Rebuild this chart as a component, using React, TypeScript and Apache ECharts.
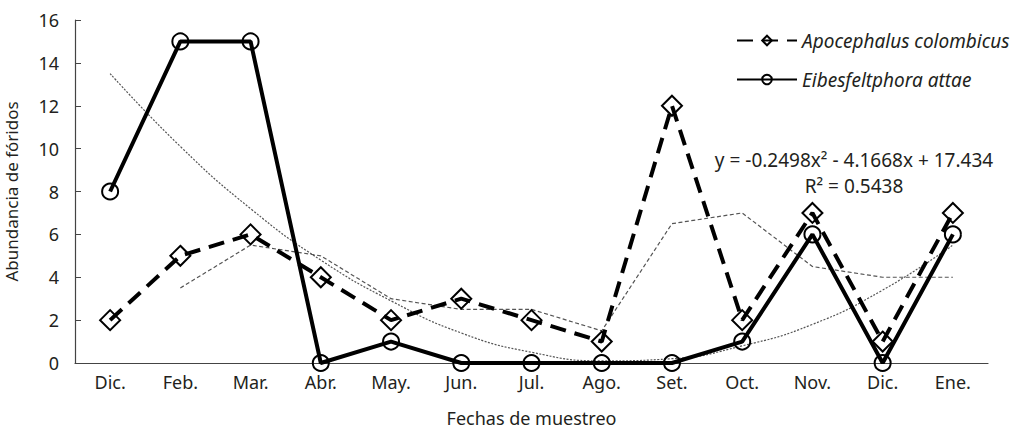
import React, { useEffect, useRef } from "react";
import * as echarts from "echarts";

// Sampling months
const months = ["Dic.", "Feb.", "Mar.", "Abr.", "May.", "Jun.", "Jul.", "Ago.", "Set.", "Oct.", "Nov.", "Dic.", "Ene."];

// Phorid abundance per sampling date
const apocephalus = [2, 5, 6, 4, 2, 3, 2, 1, 12, 2, 7, 1, 7];
const eibesfeltphora = [8, 15, 15, 0, 1, 0, 0, 0, 0, 1, 6, 0, 6];

// Two-period moving average of A. colombicus (dashed trend)
const apocephalusMovingAvg = [null, 3.5, 5.5, 5, 3, 2.5, 2.5, 1.5, 6.5, 7, 4.5, 4, 4];

// Polynomial trend of E. attae (dotted curve)
const eibesfeltphoraTrend = [13.5, 10.1, 7.2, 4.8, 2.9, 1.4, 0.5, 0.1, 0.2, 0.8, 1.8, 3.4, 5.5];

const trendEquation = "y = -0.2498x\u00B2 - 4.1668x + 17.434";
const trendR2 = "R\u00B2 = 0.5438";

const FONT = "'Noto Sans', sans-serif";
const INK = "#231f20";

export default function App() {
  const ref = useRef<HTMLDivElement>(null);

  useEffect(() => {
    document.body.style.margin = "0";
    if (!ref.current) return;
    const chart = echarts.init(ref.current, undefined, { renderer: "svg" });
    chart.setOption({
      animation: false,
      backgroundColor: "#ffffff",
      textStyle: { fontFamily: FONT, color: INK },
      grid: { left: 75, right: 32, top: 20, bottom: 70, containLabel: false, outerBoundsMode: "none" },
      legend: {
        data: ["Apocephalus colombicus", "Eibesfeltphora attae"],
        orient: "vertical",
        left: 731,
        top: 26,
        itemWidth: 60,
        itemHeight: 12,
        itemGap: 20,
        textStyle: { fontFamily: FONT, fontStyle: "italic", fontSize: 19, color: INK },
      },
      xAxis: {
        type: "category",
        data: months,
        boundaryGap: true,
        name: "Fechas de muestreo",
        nameLocation: "middle",
        nameGap: 46,
        nameTextStyle: { fontSize: 18, color: INK, fontFamily: FONT },
        axisLine: { lineStyle: { color: "#444", width: 1.2 } },
        axisTick: { inside: true, length: 6, lineStyle: { color: "#444" } },
        axisLabel: { fontSize: 18, color: INK, margin: 10, fontFamily: FONT },
        splitLine: { show: false },
      },
      yAxis: {
        type: "value",
        min: 0,
        max: 16,
        interval: 2,
        name: "Abundancia de fóridos",
        nameLocation: "middle",
        nameGap: 55,
        nameRotate: 90,
        nameTextStyle: { fontSize: 17, color: INK, fontFamily: FONT },
        axisLine: { show: true, lineStyle: { color: "#444", width: 1.2 } },
        axisTick: { show: true, inside: true, length: 6, lineStyle: { color: "#444" } },
        axisLabel: { fontSize: 18, color: INK, margin: 16, fontFamily: FONT },
        splitLine: { show: false },
      },
      series: [
        {
          name: "trend-poly",
          type: "line",
          data: eibesfeltphoraTrend,
          smooth: true,
          symbol: "none",
          silent: true,
          lineStyle: { color: "#555", width: 1.2, type: [2, 1.5] },
          z: 1,
        },
        {
          name: "trend-avg",
          type: "line",
          data: apocephalusMovingAvg,
          symbol: "none",
          silent: true,
          lineStyle: { color: "#555", width: 1.2, type: [4, 2.5] },
          z: 1,
        },
        {
          name: "Apocephalus colombicus",
          type: "line",
          data: apocephalus,
          symbol: "diamond",
          symbolSize: 20,
          lineStyle: { color: "#000", width: 4, type: [16, 9] },
          itemStyle: { color: "rgba(255,255,255,0)", borderColor: "#000", borderWidth: 2 },
          z: 3,
        },
        {
          name: "Eibesfeltphora attae",
          type: "line",
          data: eibesfeltphora,
          symbol: "circle",
          symbolSize: 16,
          lineStyle: { color: "#000", width: 4 },
          itemStyle: { color: "rgba(255,255,255,0)", borderColor: "#000", borderWidth: 2 },
          z: 4,
        },
      ],
      graphic: [
        {
          type: "text",
          x: 854,
          y: 160,
          style: {
            text: trendEquation,
            fontSize: 19,
            fontFamily: FONT,
            fill: INK,
            align: "center",
            verticalAlign: "middle",
          },
        },
        {
          type: "text",
          x: 854,
          y: 186,
          style: {
            text: trendR2,
            fontSize: 19,
            fontFamily: FONT,
            fill: INK,
            align: "center",
            verticalAlign: "middle",
          },
        },
      ],
    });
    return () => chart.dispose();
  }, []);

  return <div ref={ref} style={{ width: 1020, height: 433 }} />;
}
